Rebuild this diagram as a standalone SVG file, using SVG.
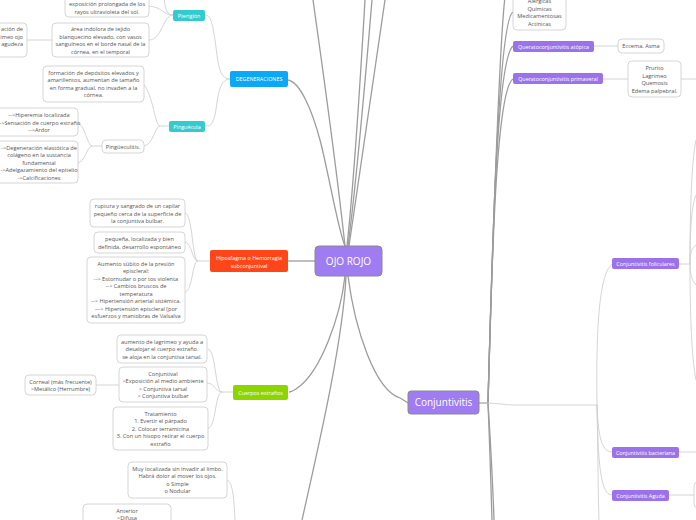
<svg xmlns="http://www.w3.org/2000/svg" width="696" height="520" viewBox="0 0 696 520">
<style>
.bg{fill:#ffffff}
.main{fill:none;stroke:#9c9c9c;stroke-width:1.3}
.sub{fill:none;stroke:#cfcfcf;stroke-width:0.9}
.box{fill:#ffffff;stroke:#cccccc;stroke-width:0.8}
.t{font-family:"Open Sans","Liberation Sans",sans-serif;font-size:5.6px;fill:#555555;text-anchor:middle}
.w{font-family:"Open Sans","Liberation Sans",sans-serif;font-size:5.4px;fill:#ffffff;text-anchor:middle}
.big{font-family:"Open Sans","Liberation Sans",sans-serif;font-size:10px;fill:#ffffff;text-anchor:middle}
.central{fill:#a07cf2;stroke:#8a8a8a;stroke-width:1}
.purple{fill:#9b72e9}
.teal{fill:#34cbcf}
.blue{fill:#0aa8f7}
.red{fill:#ff4619}
.green{fill:#8ed500}
</style>
<rect class="bg" x="0" y="0" width="696" height="520"/>
<g id="connectors">
<path class="main" d="M288,80 C300,82 312,110 320,140 S338,230 345,246"/>
<path class="main" d="M345,246 C340,200 330,120 313,0"/>
<path class="main" d="M347,246 C352,200 358,120 365,0"/>
<path class="main" d="M348,246 C354,200 362,120 372,0"/>
<path class="main" d="M349,246 C356,200 368,120 385,0"/>
<path class="main" d="M288,261 L315,261"/>
<path class="main" d="M345,276 C340,320 320,370 300,386 C295,390 292,392 289,392"/>
<path class="main" d="M346,276 C343,340 320,440 302,520"/>
<path class="main" d="M348,276 C355,330 375,390 400,398 C404,400 406,402 408,403"/>
<path class="main" d="M479,403 L488,403"/>
<path class="main" d="M488,403 C492,260 496,60 513,46"/>
<path class="main" d="M488,403 C492,260 496,90 513,79"/>
<path class="main" d="M488,403 C492,260 498,20 513,12"/>
<path class="main" d="M488,403 C492,260 500,20 506,-10"/>
<path class="main" d="M488,403 C490,450 491,490 492,520"/>
<path class="main" d="M488,403 C491,450 493,490 494,520"/>
<path class="sub" d="M479,403 C500,403 505,405 515,405 L597,405"/>
<path class="sub" d="M597,405 C596,340 598,275 612,264"/>
<path class="sub" d="M597,405 C598,430 600,452 612,452"/>
<path class="sub" d="M597,405 C598,460 600,495 612,495"/>
<path class="sub" d="M597,405 C598,450 598,490 599,520"/>
<path class="sub" d="M173,15 C163,15 162,7 149,6"/>
<path class="sub" d="M173,15 C165,15 165,5 163,-10"/>
<path class="sub" d="M173,15 C163,15 162,40 149,40"/>
<path class="sub" d="M52,40 L27,40"/>
<path class="sub" d="M230,79 C218,79 218,60 215,40 C212,20 210,15 205,15"/>
<path class="sub" d="M230,79 C218,79 218,100 215,115 C212,126 210,126 205,126"/>
<path class="sub" d="M169,126 L160,126 C155,126 153,95 144,85"/>
<path class="sub" d="M160,126 C155,126 153,145 144,146"/>
<path class="sub" d="M102,146 L92,146 C87,146 85,123 77,123"/>
<path class="sub" d="M92,146 C87,146 85,163 77,163"/>
<path class="sub" d="M210,261 L198,261 C192,261 193,215 185,213"/>
<path class="sub" d="M198,261 C192,261 192,243 185,242"/>
<path class="sub" d="M198,261 C192,261 193,290 185,292"/>
<path class="sub" d="M233,392 L222,392 C215,392 216,350 208,349"/>
<path class="sub" d="M222,392 C215,392 215,383 207,383"/>
<path class="sub" d="M222,392 C215,392 216,428 208,428"/>
<path class="sub" d="M96,385 L119,385"/>
<path class="sub" d="M227,480 C233,482 234,500 235,520"/>
<path class="sub" d="M594,46 L618,46"/>
<path class="sub" d="M603,79 L628,79"/>
<path class="sub" d="M681,79 L696,79"/>
<path class="sub" d="M679,264 L690,264"/>
<path class="sub" d="M690,264 C690,200 692,160 696,140"/>
<path class="sub" d="M690,264 C690,225 692,205 696,195"/>
<path class="sub" d="M690,264 C690,252 692,248 696,245"/>
<path class="sub" d="M690,264 C690,275 692,280 696,285"/>
<path class="sub" d="M690,264 C690,320 692,360 696,380"/>
<path class="sub" d="M679,452 L696,452"/>
<path class="sub" d="M669,495 L694,495"/>
</g>
<g id="ojo-rojo">
<rect class="central" x="315" y="246" width="67" height="30" rx="4"/>
<text class="big" x="348.5" y="265">OJO ROJO</text>
</g>
<g id="conjuntivitis">
<rect class="central" x="408" y="391" width="71" height="23" rx="3"/>
<text class="big" x="443.5" y="406">Conjuntivitis</text>
</g>
<g id="degeneraciones">
<rect class="blue" x="230" y="71" width="58" height="16" rx="2"/>
<text class="w" x="259" y="81">DEGENERACIONES</text>
</g>
<g id="pterigion">
<rect class="teal" x="173" y="10" width="32" height="11" rx="2"/>
<text class="w" x="189" y="17.5">Pterigión</text>
</g>
<g id="pt-exposicion">
<rect class="box" x="65" y="-8" width="84" height="25" rx="4"/>
<text class="t" x="107" y="6">exposición prolongada de los</text>
<text class="t" x="107" y="14">rayos ultravioleta del sol.</text>
</g>
<g id="pt-area">
<rect class="box" x="52" y="23" width="97" height="34" rx="4"/>
<text class="t" x="100.5" y="31">área indolora de tejido</text>
<text class="t" x="100.5" y="38.5">blanquecino elevado, con vasos</text>
<text class="t" x="100.5" y="46">sanguíneos en el borde nasal de la</text>
<text class="t" x="100.5" y="53.5">córnea, en el temporal</text>
</g>
<g id="pt-left">
<rect class="box" x="-40" y="23" width="67" height="34" rx="4"/>
<text class="t" x="23" y="31" style="text-anchor:end">ación de</text>
<text class="t" x="23" y="38.5" style="text-anchor:end">imeo ojo</text>
<text class="t" x="23" y="46" style="text-anchor:end">agudeza</text>
</g>
<g id="pinguecula">
<rect class="teal" x="169" y="121" width="36" height="11" rx="2"/>
<text class="w" x="187" y="128.5">Pinguécula</text>
</g>
<g id="pg-formacion">
<rect class="box" x="43" y="66" width="101" height="36" rx="4"/>
<text class="t" x="93.5" y="74.5">formación de depósitos elevados y</text>
<text class="t" x="93.5" y="82">amarillentos,  aumentan de tamaño</text>
<text class="t" x="93.5" y="89.5">en forma gradual,  no invaden a la</text>
<text class="t" x="93.5" y="97">córnea.</text>
</g>
<g id="pingueculitis">
<rect class="box" x="102" y="140" width="42" height="13" rx="4"/>
<text class="t" x="123" y="148.5">Pingüeculitis.</text>
</g>
<g id="pg-hiperemia">
<rect class="box" x="-20" y="108" width="98" height="28" rx="4"/>
<text class="t" x="39" y="117">-->Hiperemia localizada</text>
<text class="t" x="39" y="124.5">-->Sensación de cuerpo extraño</text>
<text class="t" x="39" y="132">-->Ardor</text>
</g>
<g id="pg-degeneracion">
<rect class="box" x="-20" y="141" width="98" height="42" rx="4"/>
<text class="t" x="39" y="149.5">->Degeneración elastótica de</text>
<text class="t" x="39" y="157">colágeno en la sustancia</text>
<text class="t" x="39" y="164.5">fundamental</text>
<text class="t" x="39" y="172">->Adelgazamiento del epitelio</text>
<text class="t" x="39" y="179.5">->Calcificaciones</text>
</g>
<g id="hiposfagma">
<rect class="red" x="210" y="250" width="78" height="22" rx="2"/>
<text class="w" x="249" y="259.5">Hiposfagma o Hemorragia</text>
<text class="w" x="249" y="267.5">subconjuntival</text>
</g>
<g id="hp-ruptura">
<rect class="box" x="90" y="199" width="95" height="28" rx="4"/>
<text class="t" x="137.5" y="208">ruptura y sangrado de un capilar</text>
<text class="t" x="137.5" y="215.5">pequeño cerca de la superficie de</text>
<text class="t" x="137.5" y="223">la conjuntiva bulbar.</text>
</g>
<g id="hp-pequena">
<rect class="box" x="94" y="232" width="91" height="21" rx="4"/>
<text class="t" x="139.5" y="241">pequeña, localizada y bien</text>
<text class="t" x="139.5" y="248.5">definida, desarrollo espontáneo</text>
</g>
<g id="hp-aumento">
<rect class="box" x="87" y="257" width="98" height="66" rx="4"/>
<text class="t" x="136" y="265.5">Aumento súbito de la presión</text>
<text class="t" x="136" y="273">episcleral:</text>
<text class="t" x="136" y="280.5">--&gt; Estornudar o por tos violenta</text>
<text class="t" x="136" y="288">--&gt; Cambios bruscos de</text>
<text class="t" x="136" y="295.5">temperatura</text>
<text class="t" x="136" y="303">--&gt; Hipertensión arterial sistémica.</text>
<text class="t" x="136" y="310.5">---&gt; Hipertensión episcleral (por</text>
<text class="t" x="136" y="318">esfuerzos y maniobras de Valsalva</text>
</g>
<g id="cuerpos-extranos">
<rect class="green" x="233" y="385" width="55" height="15" rx="2"/>
<text class="w" x="260.5" y="394.5">Cuerpos extraños</text>
</g>
<g id="ce-aumento">
<rect class="box" x="117" y="335" width="90" height="28" rx="4"/>
<text class="t" x="162" y="343.5">aumento de lagrimeo y  ayuda a</text>
<text class="t" x="162" y="351">desalojar el cuerpo extraño.</text>
<text class="t" x="162" y="358.5">se aloja en la conjuntiva tarsal.</text>
</g>
<g id="ce-conjuntival">
<rect class="box" x="119" y="367" width="88" height="35" rx="4"/>
<text class="t" x="163" y="375.5">Conjuntival</text>
<text class="t" x="163" y="383">&gt;Exposición al medio ambiente</text>
<text class="t" x="163" y="390.5">&gt; Conjuntiva tarsal</text>
<text class="t" x="163" y="398">&gt; Conjuntiva bulbar</text>
</g>
<g id="ce-corneal">
<rect class="box" x="25" y="375" width="71" height="20" rx="4"/>
<text class="t" x="60.5" y="383.5">Corneal (más frecuente)</text>
<text class="t" x="60.5" y="391">&gt;Metálico (Herrumbre)</text>
</g>
<g id="ce-tratamiento">
<rect class="box" x="113" y="407" width="95" height="43" rx="4"/>
<text class="t" x="160.5" y="415.5">Tratamiento</text>
<text class="t" x="160.5" y="423">1. Evertir el párpado</text>
<text class="t" x="160.5" y="430.5">2. Colocar terramicina</text>
<text class="t" x="160.5" y="438">3. Con un hisopo retirar el cuerpo</text>
<text class="t" x="160.5" y="445.5">extraño</text>
</g>
<g id="muy-localizada">
<rect class="box" x="128" y="462" width="99" height="36" rx="4"/>
<text class="t" x="177.5" y="470.5">Muy localizada sin invadir al limbo.</text>
<text class="t" x="177.5" y="478">Habrá dolor al mover los ojos.</text>
<text class="t" x="177.5" y="485.5">o Simple</text>
<text class="t" x="177.5" y="493">o Nodular</text>
</g>
<g id="anterior">
<rect class="box" x="83" y="504" width="88" height="30" rx="4"/>
<text class="t" x="127" y="512.5">Anterior</text>
<text class="t" x="127" y="520">&gt;Difusa</text>
</g>
<g id="alergicas">
<rect class="box" x="513" y="-10" width="53" height="40" rx="4"/>
<text class="t" x="539.5" y="3">Alérgicas</text>
<text class="t" x="539.5" y="10.5">Químicas</text>
<text class="t" x="539.5" y="18">Medicamentosas</text>
<text class="t" x="539.5" y="25.5">Actínicas</text>
</g>
<g id="queratoconjuntivitis-atopica">
<rect class="purple" x="513" y="41" width="81" height="11" rx="2"/>
<text class="w" x="553.5" y="48.5">Queratoconjuntivitis atópica</text>
</g>
<g id="eccema">
<rect class="box" x="618" y="39" width="46" height="14" rx="4"/>
<text class="t" x="641" y="48">Eccema, Asma</text>
</g>
<g id="queratoconjuntivitis-primaveral">
<rect class="purple" x="513" y="73" width="90" height="11" rx="2"/>
<text class="w" x="558" y="80.5">Queratoconjuntivitis primaveral</text>
</g>
<g id="prurito">
<rect class="box" x="628" y="61" width="53" height="36" rx="4"/>
<text class="t" x="654.5" y="70">Prurito</text>
<text class="t" x="654.5" y="77.5">Lagrimeo</text>
<text class="t" x="654.5" y="85">Quemosis</text>
<text class="t" x="654.5" y="92.5">Edema palpebral.</text>
</g>
<g id="conjuntivitis-foliculares">
<rect class="purple" x="612" y="258" width="67" height="11" rx="2"/>
<text class="w" x="645.5" y="265.5">Conjuntivitis foliculares</text>
</g>
<g id="conjuntivitis-bacteriana">
<rect class="purple" x="612" y="447" width="67" height="11" rx="2"/>
<text class="w" x="645.5" y="454.5">Conjuntivitis bacteriana</text>
</g>
<g id="conjuntivitis-aguda">
<rect class="purple" x="612" y="490" width="57" height="11" rx="2"/>
<text class="w" x="640.5" y="497.5">Conjuntivitis Aguda</text>
</g>
<g id="aguda-child">
<rect class="box" x="694" y="482" width="20" height="26" rx="4"/>
</g>
</svg>
